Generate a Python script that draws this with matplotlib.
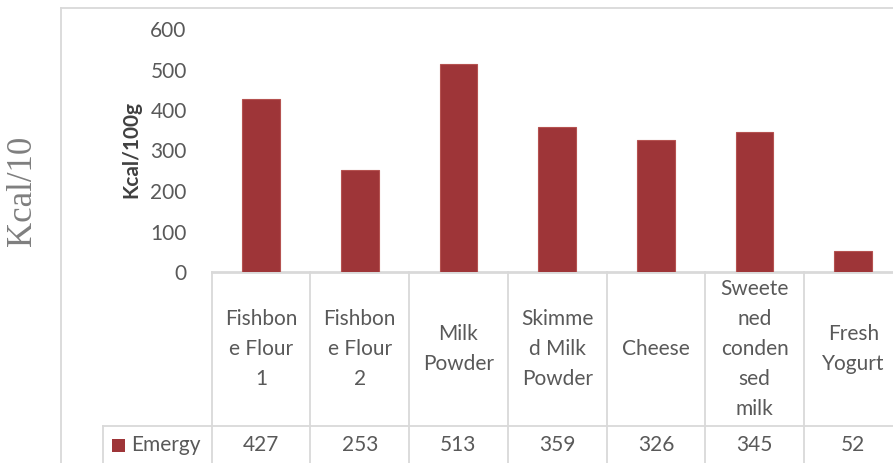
import matplotlib.pyplot as plt
from matplotlib.lines import Line2D
from matplotlib.patches import Rectangle

# energy per product, Kcal/100g
categories = ["Fishbon\ne Flour\n1", "Fishbon\ne Flour\n2", "Milk\nPowder",
              "Skimme\nd Milk\nPowder", "Cheese", "Sweete\nned\nconden\nsed\nmilk",
              "Fresh\nYogurt"]
values = [427, 253, 513, 359, 326, 345, 52]
yticks = [0, 100, 200, 300, 400, 500, 600]
series_name = "Emergy"

W, H = 893, 463
TXT = "#595959"
GRID = "#D9D9D9"
BAR = "#9E3538"
FS = 15

plt.rcParams['font.family'] = ['Lato', 'DejaVu Sans']

fig = plt.figure(figsize=(W / 100, H / 100), dpi=100)


def fx(x):
    return x / W


def fy(y):
    return 1 - y / H


# plot area runs past the right edge, last column is cut off
left, right, top, base = 211.7, 902.6, 29, 272
ax = fig.add_axes([fx(left), fy(base), fx(right - left), (base - top) / H])

x = list(range(len(values)))
ax.bar(x, values, width=0.38, color=BAR, edgecolor="#B55250", linewidth=0.8, zorder=3)
ax.set_xlim(-0.5, len(values) - 0.5)
ax.set_ylim(0, 600)
ax.set_yticks(yticks)
ax.set_yticklabels([str(t) for t in yticks], fontsize=FS, color=TXT)
ax.tick_params(axis='y', length=0, pad=18)
ax.set_xticks([])
for s in ["top", "right", "left"]:
    ax.spines[s].set_visible(False)
ax.spines["bottom"].set_color(GRID)
ax.spines["bottom"].set_linewidth(2)

fig.text(fx(131), fy(150), "Kcal/100g", rotation=90, ha="center", va="center",
         fontsize=15, fontweight="bold", color="#404040")

# data table under the axis
row_y = (base - 426) / (base - top)
lab_y = (base - 349) / (base - top)
val_y = (base - 445) / (base - top)
xt = ax.get_xaxis_transform()
for b in range(len(values) + 1):
    ax.plot([b - 0.5, b - 0.5], [0, -2], transform=xt, color=GRID, lw=1.3, clip_on=False)
ax.plot([-0.5, len(values) - 0.5], [row_y, row_y], transform=xt, color=GRID, lw=1.3, clip_on=False)
for i, (c, v) in enumerate(zip(categories, values)):
    ax.text(i, lab_y, c, transform=xt, ha="center", va="center", fontsize=FS,
            color=TXT, linespacing=1.62)
    ax.text(i, val_y, str(v), transform=xt, ha="center", va="center", fontsize=FS, color=TXT)

# legend key cell
fig.add_artist(Line2D([fx(103.3), fx(left)], [fy(426), fy(426)], color=GRID, lw=1.3))
fig.add_artist(Line2D([fx(103.3), fx(103.3)], [fy(426), fy(470)], color=GRID, lw=1.3))
fig.add_artist(Rectangle((fx(111.5), fy(452)), fx(13.5), 13.5 / H, transform=fig.transFigure,
                         facecolor=BAR, edgecolor="none"))
fig.text(fx(131), fy(445), series_name, ha="left", va="center", fontsize=FS, color=TXT)

# chart frame
fig.add_artist(Line2D([fx(61), 1], [fy(8), fy(8)], color=GRID, lw=1.3))
fig.add_artist(Line2D([fx(61), fx(61)], [fy(8), 0], color=GRID, lw=1.3))

fig.text(fx(23), fy(191), "Kcal/10", rotation=90, ha="center", va="center",
         fontsize=25, color="#7F7F7F", family=["Liberation Serif", "DejaVu Serif"])

fig.savefig("out.png", dpi=100)
